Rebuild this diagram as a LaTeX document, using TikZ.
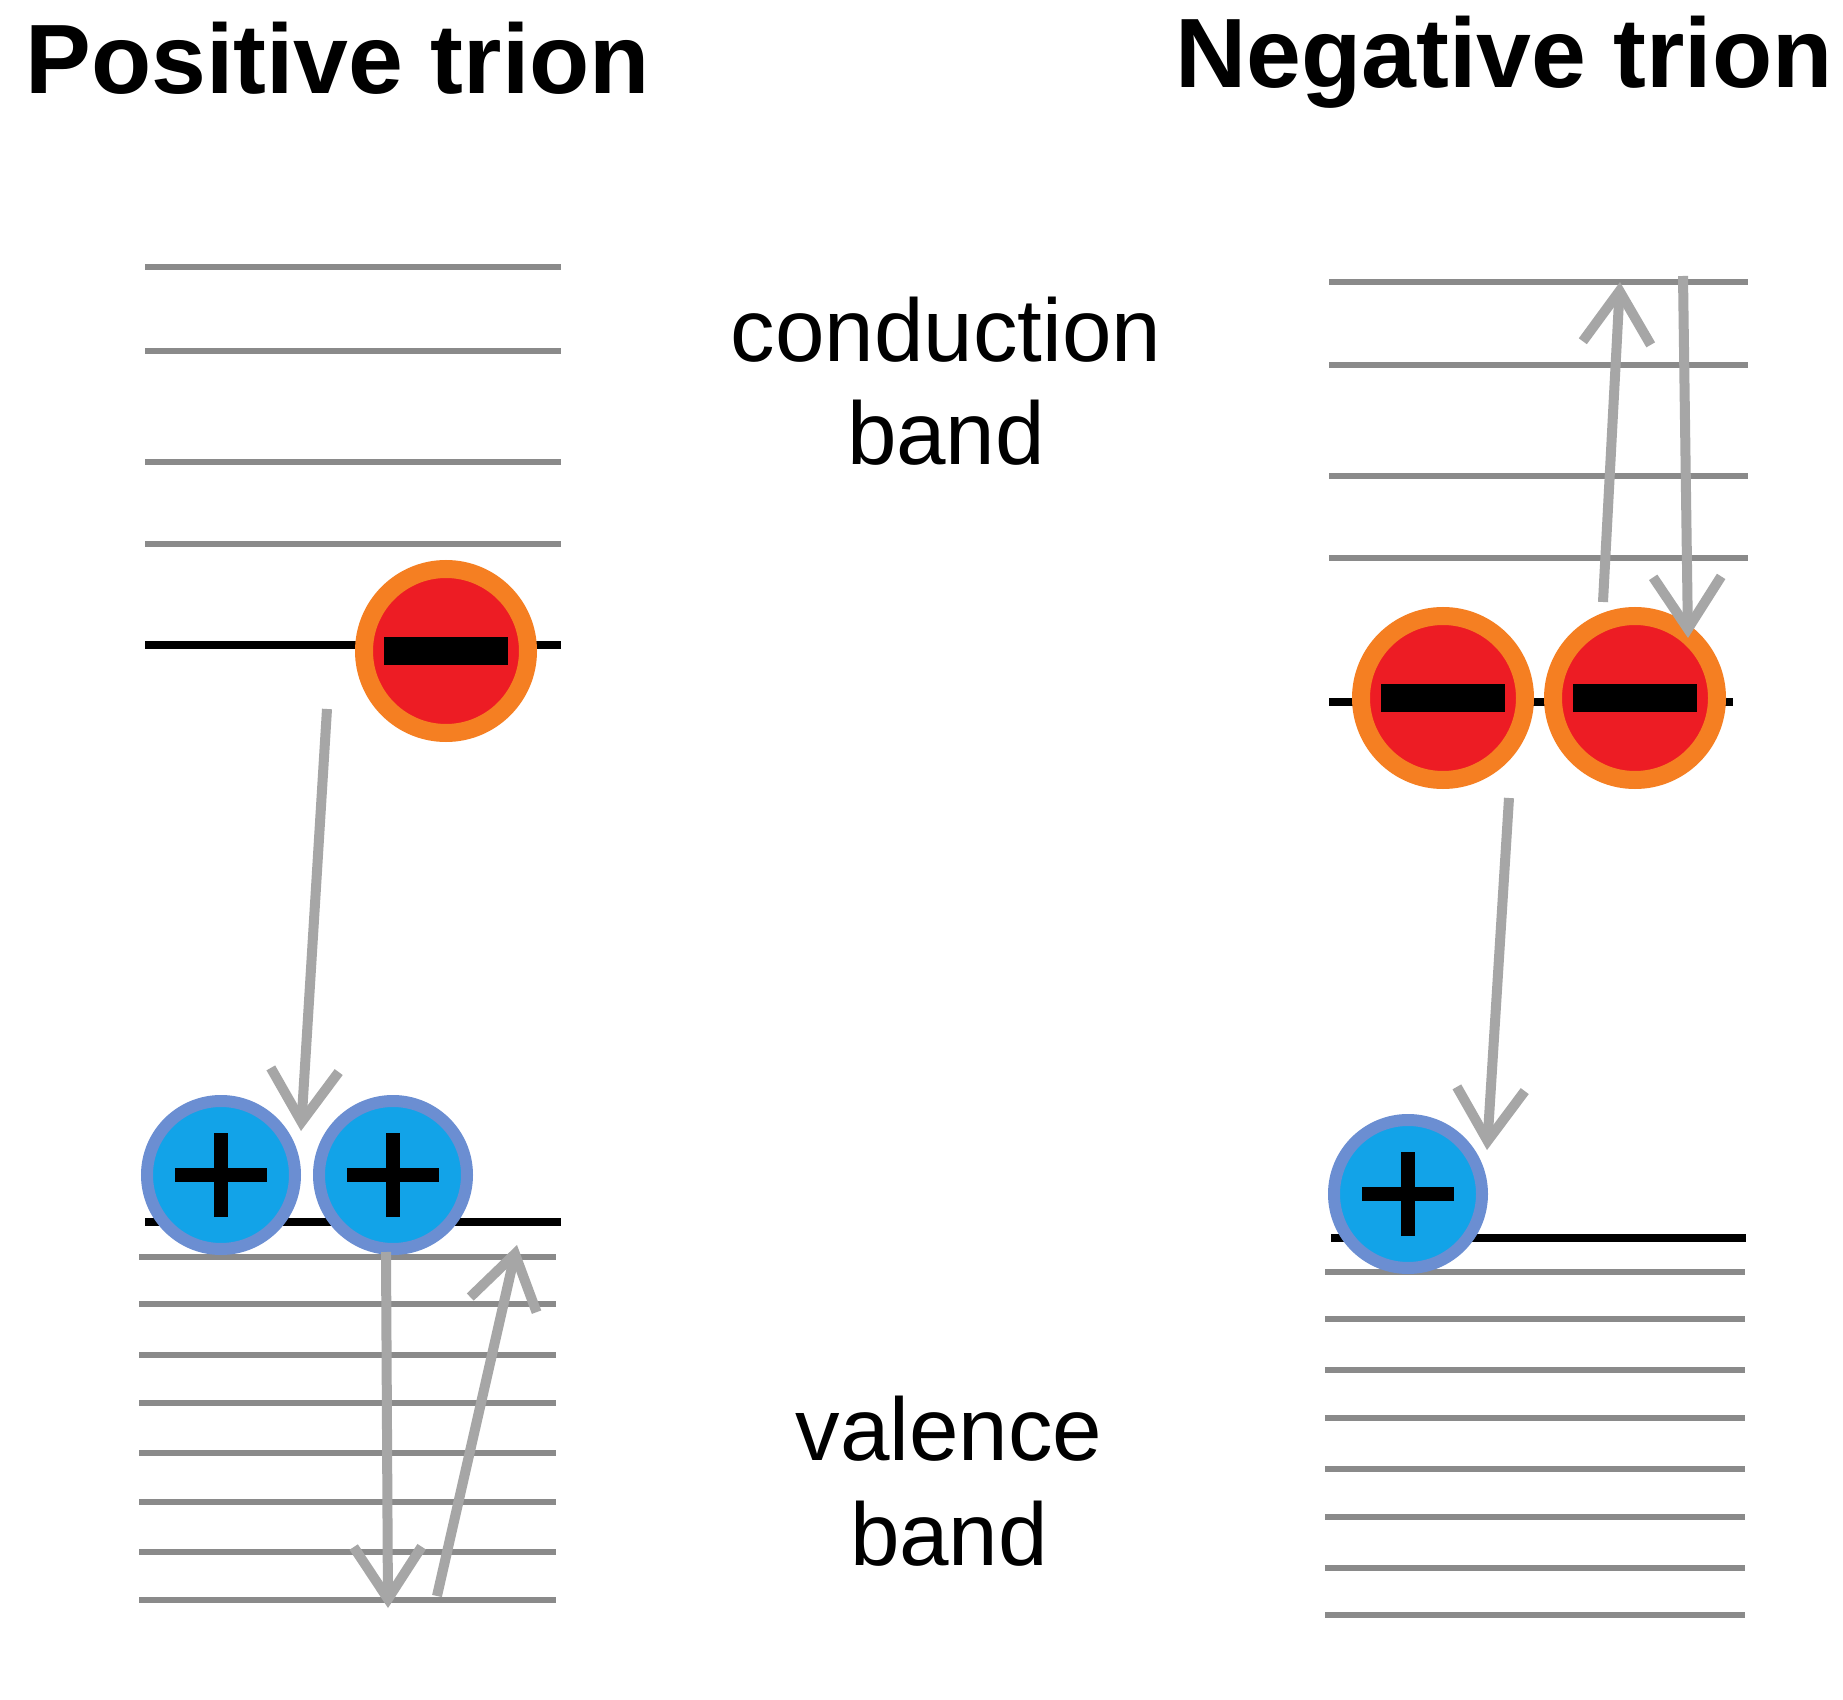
\documentclass[tikz,border=0pt]{standalone}
\usepackage{fontspec}
\setmainfont{Liberation Sans}
\usetikzlibrary{arrows.meta}
\definecolor{lvl}{HTML}{8A8A8A}
\definecolor{arr}{HTML}{A6A6A6}
\definecolor{ered}{HTML}{ED1C24}
\definecolor{eorange}{HTML}{F57F22}
\definecolor{hblue}{HTML}{12A3E8}
\definecolor{hring}{HTML}{6B8ED2}
\begin{document}
\begin{tikzpicture}[x=0.5pt,y=-0.5pt,
  level/.style={draw=lvl, line width=3pt},
  fermi/.style={draw=black, line width=4pt},
  trans/.style={draw=arr, line width=5pt, -{Straight Barb[length=26pt,width=34pt]}},
  title/.style={font=\fontsize{49.3pt}{56pt}\selectfont\bfseries, inner sep=0pt, anchor=base west},
  bandlabel/.style={font=\fontsize{44.5pt}{50pt}\selectfont, inner sep=0pt, anchor=base},
  electron/.style={circle, fill=ered, draw=eorange, line width=9pt, minimum size=82pt, inner sep=0pt},
  hole/.style={circle, fill=hblue, draw=hring, line width=6pt, minimum size=74pt, inner sep=0pt,
    path picture={
      \draw[black, line width=7pt] ([xshift=-23pt]path picture bounding box.center) -- ([xshift=23pt]path picture bounding box.center);
      \draw[black, line width=7pt] ([yshift=-21pt]path picture bounding box.center) -- ([yshift=21pt]path picture bounding box.center);
    }},
]
\fill[white] (0,0) rectangle (1843,1700);
\useasboundingbox (0,0) rectangle (1843,1700);

% titles
\node[title] (tpos) at (25,94) {Positive trion};
\node[title] (tneg) at (1175,88) {Negative trion};

% band labels
\node[bandlabel] (cb1) at (946,362) {conduction};
\node[bandlabel] (cb2) at (946,465) {band};
\node[bandlabel] (vb1) at (949,1460) {valence};
\node[bandlabel] (vb2) at (949,1565) {band};

% left panel levels
\foreach \yy in {267,351,462,544} \draw[level] (145,\yy) -- (561,\yy);
\draw[fermi] (145,645) -- (561,645);
\draw[fermi] (145,1222) -- (561,1222);
\foreach \yy in {1257,1304,1355,1403,1453,1502,1552,1600} \draw[level] (139,\yy) -- (556,\yy);

% right panel levels
\foreach \yy in {282,365,476,558} \draw[level] (1329,\yy) -- (1748,\yy);
\draw[fermi] (1329,702) -- (1733,702);
\draw[fermi] (1331,1238) -- (1746,1238);
\foreach \yy in {1272,1319,1370,1418,1469,1517,1568,1615} \draw[level] (1325,\yy) -- (1745,\yy);

% particles
\node[electron] (eL) at (446,651) {\rule{62pt}{14pt}};
\node[hole] (hL1) at (221,1175) {};
\node[hole] (hL2) at (393,1175) {};

\node[electron] (eR1) at (1443,698) {\rule{62pt}{14pt}};
\node[electron] (eR2) at (1635,698) {\rule{62pt}{14pt}};
\node[hole] (hR) at (1408,1194) {};

% arrow end points
\coordinate (a1s) at (327,709);
\coordinate (a1e) at (301,1131);
\coordinate (a2s) at (386,1252);
\coordinate (a2e) at (388,1608);
\coordinate (a3s) at (437,1596);
\coordinate (a3e) at (517,1245);
\coordinate (a4s) at (1603,602);
\coordinate (a4e) at (1620,282);
\coordinate (a5s) at (1683,276);
\coordinate (a5e) at (1688,638);
\coordinate (a6s) at (1509,798);
\coordinate (a6e) at (1487,1150);

\draw[trans] (a1s) -- (a1e);
\draw[trans] (a2s) -- (a2e);
\draw[trans] (a3s) -- (a3e);
\draw[trans] (a4s) -- (a4e);
\draw[trans] (a5s) -- (a5e);
\draw[trans] (a6s) -- (a6e);
\end{tikzpicture}
\end{document}
